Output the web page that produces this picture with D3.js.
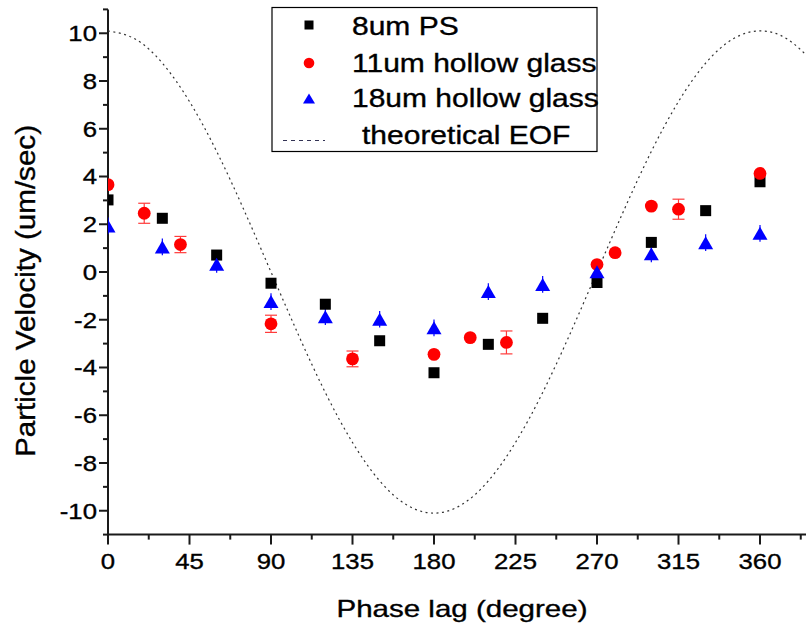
<!DOCTYPE html>
<html>
<head>
<meta charset="utf-8">
<script src="https://cdn.jsdelivr.net/npm/d3@7"></script>
<style>
  body { margin: 0; background: #fff; }
  text { font-family: "Liberation Sans", Arial, sans-serif; fill: #000; stroke: #000; stroke-width: 0.35px; }
</style>
</head>
<body>
<div id="chart"></div>
<script>
// 8um PS
var psPhase = [0, 30, 60, 90, 120, 150, 180, 210, 240, 270, 300, 330, 360];
var psVel = [3.02, 2.25, 0.71, -0.47, -1.35, -2.88, -4.22, -3.03, -1.94, -0.44, 1.24, 2.57, 3.78];

// 11um hollow glass
var hg11Phase = [0, 20, 40, 90, 135, 180, 200, 220, 270, 280, 300, 315, 360];
var hg11Vel = [3.66, 2.46, 1.15, -2.17, -3.64, -3.45, -2.75, -2.95, 0.31, 0.81, 2.76, 2.63, 4.13];
var hg11Err = [0, 0.42, 0.34, 0.36, 0.33, 0, 0, 0.48, 0, 0, 0, 0.42, 0];

// 18um hollow glass
var hg18Phase = [0, 30, 60, 90, 120, 150, 180, 210, 240, 270, 300, 330, 360];
var hg18Vel = [1.93, 1.05, 0.32, -1.24, -1.87, -1.98, -2.34, -0.82, -0.52, 0.01, 0.76, 1.23, 1.62];
var hg18Err = [0.35, 0.35, 0.35, 0.35, 0.35, 0.35, 0.35, 0.35, 0.35, 0.35, 0.35, 0.35, 0.35];

// theoretical EOF curve
var eofPhase = [0, 15, 30, 45, 60, 75, 90, 105, 120, 135, 150, 165, 180, 195, 210, 225, 240, 255, 270, 285, 300, 315, 330, 345, 360, 375, 390];
var eofVel = [10.1, 9.76, 8.75, 7.14, 5.05, 2.61, 0, -2.61, -5.05, -7.14, -8.75, -9.76, -10.1, -9.76, -8.75, -7.14, -5.05, -2.61, 0, 2.61, 5.05, 7.14, 8.75, 9.76, 10.1, 9.76, 8.75];

var xMajor = [0, 45, 90, 135, 180, 225, 270, 315, 360];
var xMinor = [22.5, 67.5, 112.5, 157.5, 202.5, 247.5, 292.5, 337.5, 382.5];
var yMajor = [-10, -8, -6, -4, -2, 0, 2, 4, 6, 8, 10];
var yMinor = [-11, -9, -7, -5, -3, -1, 1, 3, 5, 7, 9, 11];

var legendNames = ["8um PS", "11um hollow glass", "18um hollow glass", "theoretical EOF"];

var svg = d3.select("#chart").append("svg")
  .attr("width", 806)
  .attr("height", 625);

var x = d3.scaleLinear().domain([0, 360]).range([108, 760]);
var y = d3.scaleLinear().domain([-11, 11]).range([534.6, 9.4]);

svg.append("clipPath").attr("id", "plot-clip")
  .append("rect")
  .attr("x", 108).attr("y", 0)
  .attr("width", 720).attr("height", 535);

// axes
var xEnd = x(420);
var axisColor = "#1a1a1a";

var xAxisG = svg.append("g").attr("transform", "translate(0," + y(-11) + ")");
xAxisG.append("line")
  .attr("x1", x(0) - 1).attr("x2", xEnd)
  .attr("stroke", axisColor).attr("stroke-width", 2);
xAxisG.selectAll(".xmaj").data(xMajor).enter().append("line")
  .attr("x1", d => x(d)).attr("x2", d => x(d))
  .attr("y1", 0).attr("y2", 10)
  .attr("stroke", axisColor).attr("stroke-width", 2);
xAxisG.selectAll(".xmin").data(xMinor).enter().append("line")
  .attr("x1", d => x(d)).attr("x2", d => x(d))
  .attr("y1", 0).attr("y2", 5)
  .attr("stroke", axisColor).attr("stroke-width", 2);
xAxisG.selectAll(".xlab").data(xMajor).enter().append("text")
  .attr("text-anchor", "middle")
  .attr("font-size", 22)
  .attr("transform", d => "translate(" + x(d) + ",34) scale(1.17,1)")
  .text(d => d);

var yAxisG = svg.append("g").attr("transform", "translate(" + x(0) + ",0)");
yAxisG.append("line")
  .attr("y1", y(-11) + 1).attr("y2", y(11))
  .attr("stroke", axisColor).attr("stroke-width", 2);
yAxisG.selectAll(".ymaj").data(yMajor).enter().append("line")
  .attr("y1", d => y(d)).attr("y2", d => y(d))
  .attr("x1", 0).attr("x2", -9)
  .attr("stroke", axisColor).attr("stroke-width", 2);
yAxisG.selectAll(".ymin").data(yMinor).enter().append("line")
  .attr("y1", d => y(d)).attr("y2", d => y(d))
  .attr("x1", 0).attr("x2", -5)
  .attr("stroke", axisColor).attr("stroke-width", 2);
yAxisG.selectAll(".ylab").data(yMajor).enter().append("text")
  .attr("text-anchor", "end")
  .attr("font-size", 22)
  .attr("dy", "0.36em")
  .attr("transform", d => "translate(-11," + y(d) + ") scale(1.17,1)")
  .text(d => d);

// axis titles
svg.append("text")
  .attr("x", 462).attr("y", 617)
  .attr("text-anchor", "middle")
  .attr("font-size", 24)
  .attr("textLength", 251)
  .attr("lengthAdjust", "spacingAndGlyphs")
  .text("Phase lag (degree)");

svg.append("text")
  .attr("transform", "translate(35,291) rotate(-90)")
  .attr("text-anchor", "middle")
  .attr("font-size", 27)
  .attr("textLength", 332)
  .attr("lengthAdjust", "spacingAndGlyphs")
  .text("Particle Velocity (um/sec)");

var plot = svg.append("g").attr("clip-path", "url(#plot-clip)");

// theoretical curve
var eof = eofPhase.map((p, i) => ({p: p, v: eofVel[i]}));
plot.append("path")
  .datum(eof)
  .attr("fill", "none")
  .attr("stroke", "#333")
  .attr("stroke-width", 1.2)
  .attr("stroke-dasharray", "2,3.5")
  .attr("d", d3.line().x(d => x(d.p)).y(d => y(d.v)).curve(d3.curveNatural));

// error bars
var hg18 = hg18Phase.map((p, i) => ({p: p, v: hg18Vel[i], e: hg18Err[i]}));
plot.selectAll(".err18").data(hg18).enter().append("line")
  .attr("x1", d => x(d.p)).attr("x2", d => x(d.p))
  .attr("y1", d => y(d.v - d.e)).attr("y2", d => y(d.v + d.e))
  .attr("stroke", "#0000ff").attr("stroke-width", 1.2);

var hg11 = hg11Phase.map((p, i) => ({p: p, v: hg11Vel[i], e: hg11Err[i]}));
var errG = plot.selectAll(".err11").data(hg11.filter(d => d.e > 0)).enter().append("g");
errG.append("line")
  .attr("x1", d => x(d.p)).attr("x2", d => x(d.p))
  .attr("y1", d => y(d.v - d.e)).attr("y2", d => y(d.v + d.e))
  .attr("stroke", "#ff3b3b").attr("stroke-width", 1.2);
[-1, 1].forEach(function(s) {
  errG.append("line")
    .attr("x1", d => x(d.p) - 6).attr("x2", d => x(d.p) + 6)
    .attr("y1", d => y(d.v + s * d.e)).attr("y2", d => y(d.v + s * d.e))
    .attr("stroke", "#ff3b3b").attr("stroke-width", 1.2);
});

// markers
var ps = psPhase.map((p, i) => ({p: p, v: psVel[i]}));
plot.selectAll(".ps").data(ps).enter().append("rect")
  .attr("x", d => x(d.p) - 5.5).attr("y", d => y(d.v) - 5.5)
  .attr("width", 11).attr("height", 11)
  .attr("fill", "#000");

plot.selectAll(".hg11").data(hg11).enter().append("circle")
  .attr("cx", d => x(d.p)).attr("cy", d => y(d.v))
  .attr("r", 6.4)
  .attr("fill", "#ff0000");

function triangle(cx, cy, w, h) {
  return "M" + cx + "," + (cy - h / 2) + "L" + (cx + w / 2) + "," + (cy + h / 2) + "L" + (cx - w / 2) + "," + (cy + h / 2) + "Z";
}
plot.selectAll(".hg18").data(hg18).enter().append("path")
  .attr("d", d => triangle(x(d.p), y(d.v), 15, 13))
  .attr("fill", "#0000ff");

// legend
var lg = svg.append("g");
lg.append("rect")
  .attr("x", 272).attr("y", 7.5)
  .attr("width", 325).attr("height", 144)
  .attr("fill", "#fff")
  .attr("stroke", "#000").attr("stroke-width", 1.2);

lg.append("rect").attr("x", 304.5).attr("y", 20.5).attr("width", 9).attr("height", 9).attr("fill", "#000");
lg.append("circle").attr("cx", 309).attr("cy", 63).attr("r", 5.3).attr("fill", "#ff0000");
lg.append("path").attr("d", triangle(309, 98.5, 12, 10)).attr("fill", "#0000ff");
lg.append("line")
  .attr("x1", 283).attr("x2", 325)
  .attr("y1", 140.5).attr("y2", 140.5)
  .attr("stroke", "#335").attr("stroke-width", 1)
  .attr("stroke-dasharray", "4,4");

var legendPos = [[352, 35], [352, 72], [352, 107], [362, 144]];
lg.selectAll(".lt").data(legendNames).enter().append("text")
  .attr("font-size", 25)
  .attr("transform", (d, i) => "translate(" + legendPos[i][0] + "," + legendPos[i][1] + ") scale(1.2,1)")
  .text(d => d);
</script>
</body>
</html>
